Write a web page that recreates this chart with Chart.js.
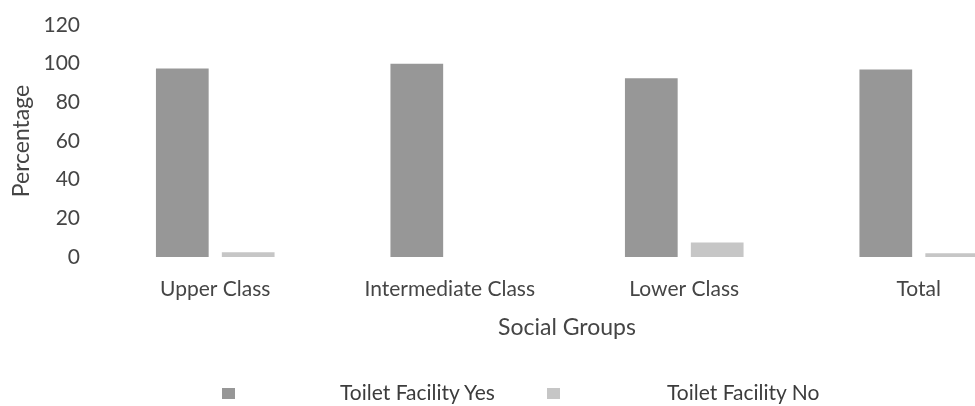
<!DOCTYPE html>
<html>
<head>
<meta charset="utf-8">
<script src="https://cdn.jsdelivr.net/npm/chart.js@4.4.0/dist/chart.umd.min.js"></script>
<style>
  html, body { margin: 0; padding: 0; background: #fff; overflow: hidden; }
  #wrap { position: relative; width: 975px; height: 406px; overflow: hidden; }
  #box { position: absolute; left: 0; top: 0; width: 1045px; height: 406px; }
  .legend-item { position: absolute; font-family: Lato, sans-serif; font-size: 21px; color: #3c3c3c; line-height: 21px; }
  .swatch { position: absolute; width: 13px; height: 11px; }
</style>
</head>
<body>
<div id="wrap">
  <div id="box"><canvas id="toiletChart"></canvas></div>
  <div class="swatch" id="sw1" style="left:222px; top:388px;"></div>
  <div class="legend-item" id="lb1" style="left:340px; top:381px;"></div>
  <div class="swatch" id="sw2" style="left:547px; top:388px;"></div>
  <div class="legend-item" id="lb2" style="left:667px; top:381px;"></div>
</div>
<script>
// data
const socialGroups = ['Upper Class', 'Intermediate Class', 'Lower Class', 'Total'];
const toiletYes = [97.5, 100, 92.5, 97];
const toiletNo = [2.5, 0, 7.5, 2];
const seriesNames = ['Toilet Facility Yes', 'Toilet Facility No'];
const seriesColors = ['#979797', '#c6c6c6'];

// html legend (spacing like the original)
document.getElementById('sw1').style.background = seriesColors[0];
document.getElementById('sw2').style.background = seriesColors[1];
document.getElementById('lb1').textContent = seriesNames[0];
document.getElementById('lb2').textContent = seriesNames[1];

const textColor = '#454545';

new Chart(document.getElementById('toiletChart'), {
    type: 'bar',
    data: {
        labels: socialGroups,
        datasets: [
            {
                label: seriesNames[0],
                data: toiletYes,
                backgroundColor: seriesColors[0],
                categoryPercentage: 0.562,
                barPercentage: 0.8
            },
            {
                label: seriesNames[1],
                data: toiletNo,
                backgroundColor: seriesColors[1],
                categoryPercentage: 0.562,
                barPercentage: 0.8
            }
        ]
    },
    options: {
        responsive: true,
        maintainAspectRatio: false,
        animation: false,
        layout: { padding: { left: 4, right: 9, top: 25, bottom: 61 } },
        plugins: {
            legend: { display: false },
            tooltip: { enabled: false }
        },
        scales: {
            x: {
                grid: { display: false, drawTicks: false },
                border: { display: false },
                ticks: {
                    color: textColor,
                    padding: 20,
                    maxRotation: 0,
                    font: { family: 'Lato', size: 21 }
                },
                title: {
                    display: true,
                    text: 'Social Groups',
                    color: textColor,
                    padding: { top: 0, bottom: 4 },
                    font: { family: 'Lato', size: 23 }
                },
                // keep the axis block the same height as the original
                afterFit: (scale) => {
                    scale.height = 88;
                    scale.paddingLeft = 0;
                    scale.paddingRight = 0;
                }
            },
            y: {
                min: 0,
                max: 120,
                grid: { display: false, drawTicks: false },
                border: { display: false },
                ticks: {
                    stepSize: 20,
                    color: textColor,
                    padding: 18,
                    font: { family: 'Lato', size: 21 }
                },
                title: {
                    display: true,
                    text: 'Percentage',
                    color: textColor,
                    padding: { top: 4, bottom: 4 },
                    font: { family: 'Lato', size: 23 }
                },
                afterFit: (scale) => {
                    scale.width = 94;
                    scale.paddingTop = 0;
                    scale.paddingBottom = 0;
                }
            }
        }
    }
});
</script>
</body>
</html>
